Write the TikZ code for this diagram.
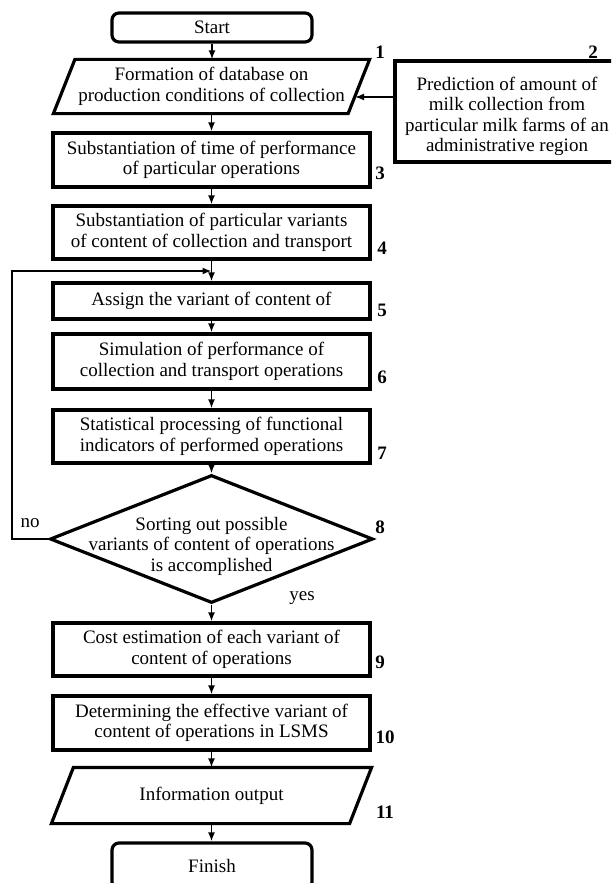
\documentclass[tikz,border=0pt]{standalone}
\usepackage{fontspec}
\setmainfont{Liberation Serif}
\usetikzlibrary{shapes.geometric,arrows.meta,calc}
\begin{document}
\begin{tikzpicture}[x=1pt,y=-1pt,
  every node/.style={font=\fontsize{19}{20.5}\selectfont},
  proc/.style={draw, line width=3.2pt, rectangle, minimum width=317pt, inner sep=0pt, align=center},
  term/.style={draw, line width=3.2pt, rounded corners=7pt, minimum width=200pt, inner sep=0pt},
  io/.style={rectangle, minimum width=313pt, inner sep=0pt, outer sep=1.6pt, align=center},
  iobox/.style={draw, line width=3.2pt, line join=miter},
  num/.style={font=\fontsize{19}{20.5}\selectfont\bfseries},
  lbl/.style={font=\fontsize{19}{20.5}\selectfont},
  arr/.style={line width=1.7pt, -{Latex[length=9pt,width=7pt]}}
]
\useasboundingbox (0,0) rectangle (611,883);
\clip (0,0) rectangle (611,883);

\node[term, minimum height=29pt] (start) at (212,27.5) {Start};

\node[io, minimum height=51pt] (b1) at (211.5,86.5) {Formation of database on\\production conditions of collection};
\draw[iobox] (b1.south west) -- ($(b1.south east)+(-21.5,0)$) -- (b1.north east) -- ($(b1.north west)+(21.5,0)$) -- cycle;

\node[proc, minimum width=222pt, minimum height=101pt] (b2) at (506,111.5) {};
\node[align=center, inner sep=0pt] (t2) at (507,116.5) {Prediction of amount of\\milk collection from\\particular milk farms of an\\administrative region};

\node[proc, minimum height=54pt] (b3) at (211.5,160) {Substantiation of time of performance\\of particular operations};
\node[proc, minimum height=53pt] (b4) at (211.5,232.5) {Substantiation of particular variants\\of content of collection and transport};
\node[proc, minimum height=36pt] (b5) at (211.5,301) {Assign the variant of content of};
\node[proc, minimum height=55pt] (b6) at (211.5,361.5) {Simulation of performance of\\collection and transport operations};
\node[proc, minimum height=53pt] (b7) at (211.5,436.5) {Statistical processing of functional\\indicators of performed operations};
\node[draw, diamond, line width=3.2pt, minimum width=323pt, minimum height=128pt, inner sep=0pt] (b8) at (211.5,539) {};
\node[align=center, inner sep=0pt] (t8) at (211.5,546) {Sorting out possible\\variants of content of operations\\is accomplished};
\node[proc, minimum height=53pt] (b9) at (211.5,649.5) {Cost estimation of each variant of\\content of operations};
\node[proc, minimum height=54pt] (b10) at (211.5,723) {Determining the effective variant of\\content of operations in LSMS};

\node[io, minimum width=317pt, minimum height=53pt] (b11) at (211.5,795.5) {Information output};
\draw[iobox] (b11.south west) -- ($(b11.south east)+(-22,0)$) -- (b11.north east) -- ($(b11.north west)+(22,0)$) -- cycle;

\node[term, minimum height=46pt] (finish) at (212,866) {Finish};

% labels
\node[num] (n1) at (380,52) {1};
\node[num] (n2) at (593,52) {2};
\node[num] (n3) at (380,173) {3};
\node[num] (n4) at (382,248) {4};
\node[num] (n5) at (382,310) {5};
\node[num] (n6) at (382,377) {6};
\node[num] (n7) at (382,453) {7};
\node[num] (n8) at (380,527) {8};
\node[num] (n9) at (380,662) {9};
\node[num] (n10) at (385,737) {10};
\node[num] (n11) at (385,812) {11};
\node[lbl] (no) at (30,523) {no};
\node[lbl] (yes) at (302,598) {yes};

% connectors
\coordinate (b1r) at (355,97);
\coordinate (jn) at ($(b4.south)!0.5!(b5.north)$);
\coordinate (lx) at (12,0);

\draw[arr] (start.south) -- (start.south |- b1.north);
\draw[arr] (b1.south) -- (b1.south |- b3.north);
\draw[arr] ($(b2.west)+(0,-14.5)$) -- (b1r);
\draw[arr] (b3) -- (b4);
\draw[arr] (b4) -- (b5);
\draw[arr] (b5) -- (b6);
\draw[arr] (b6) -- (b7);
\draw[arr] (b7.south) -- (b8.north);
\draw[arr] (b8.south) -- (b9.north);
\draw[arr] (b9) -- (b10);
\draw[arr] (b10.south) -- (b11.north);
\draw[arr] (b11.south) -- (b11.south |- finish.north);
\draw[arr] (b8.west) -- (lx |- b8.west) -- (lx |- jn) -- (jn);
\end{tikzpicture}
\end{document}
